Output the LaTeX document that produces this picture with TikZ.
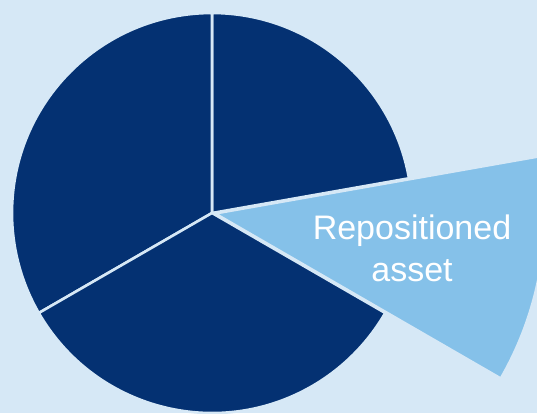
\documentclass[tikz,border=0pt]{standalone}
\usepackage{fontspec}
\setmainfont{Liberation Sans}
\definecolor{bgblue}{RGB}{214,232,246}
\definecolor{navy}{RGB}{4,49,114}
\definecolor{skyblue}{RGB}{133,193,233}
\tikzset{
  darkslice/.style={fill=navy, draw=bgblue, line width=2.6pt, line join=miter},
  lightslice/.style={fill=skyblue, draw=bgblue, line width=2.6pt, line join=miter},
  label/.style={text=white, font=\fontsize{34}{42}\selectfont, align=center, inner sep=0pt}
}
\begin{document}
\begin{tikzpicture}[x=1pt,y=1pt]
  \fill[bgblue] (0,0) rectangle (537,413);
  \useasboundingbox (0,0) rectangle (537,413);
  \begin{scope}
    \clip (0,0) rectangle (537,413);
    \coordinate (c) at (212,200);
    \coordinate (cl) at (215,199.5);
    % slices
    \draw[darkslice] (c) -- ++(10:200) arc[start angle=10, end angle=90, radius=200] -- cycle;
    \draw[darkslice] (c) -- ++(90:200) arc[start angle=90, end angle=210, radius=200] -- cycle;
    \draw[darkslice] (c) -- ++(210:200) arc[start angle=210, end angle=330, radius=200] -- cycle;
    \draw[lightslice] (cl) -- ++(-30:330) arc[start angle=-30, end angle=10, radius=330] -- cycle;
  \end{scope}
  \node[label] (lbl) at (412,165) {Repositioned\\asset};
\end{tikzpicture}
\end{document}
